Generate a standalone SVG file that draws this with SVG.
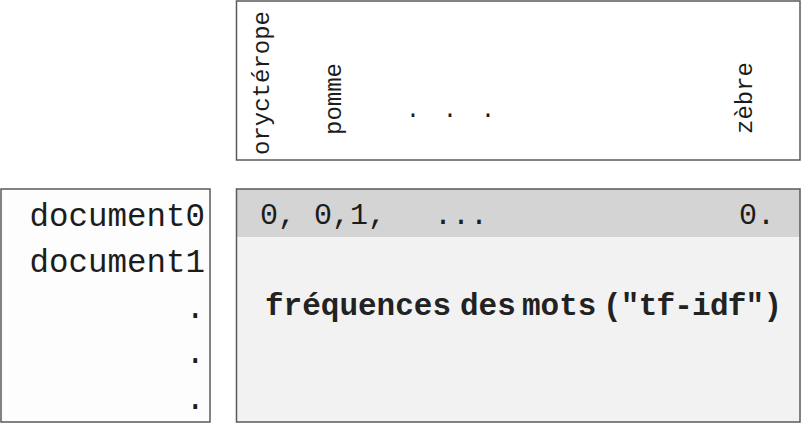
<svg xmlns="http://www.w3.org/2000/svg" width="802" height="424" viewBox="0 0 802 424">
  <style>
    .box { stroke: #5a5a5a; stroke-width: 1.5; }
    .mono { font-family: "Liberation Mono", "DejaVu Sans Mono", monospace; fill: #1c1c1c; }
    .lbl { font-size: 24px; }
    .doc { font-size: 32.5px; }
    .row { font-size: 30px; }
    .bold { font-size: 31px; font-weight: bold; fill: #222; }
  </style>
  <rect width="802" height="424" fill="#ffffff"/>

  <g id="vocabulary">
    <rect class="box" x="236.5" y="1" width="563.5" height="159" fill="#ffffff"/>
    <text class="mono lbl" transform="translate(269,155) rotate(-90)">oryctérope</text>
    <text class="mono lbl" transform="translate(341,135) rotate(-90)">pomme</text>
    <text class="mono lbl" text-anchor="middle" x="413" y="117">.</text>
    <text class="mono lbl" text-anchor="middle" x="450" y="117">.</text>
    <text class="mono lbl" text-anchor="middle" x="488" y="117">.</text>
    <text class="mono lbl" transform="translate(752,134) rotate(-90)">zèbre</text>
  </g>

  <g id="documents">
    <rect class="box" x="1" y="189" width="209" height="233" fill="#fdfdfd"/>
    <text class="mono doc" text-anchor="end" x="205" y="226">document0</text>
    <text class="mono doc" text-anchor="end" x="205" y="272">document1</text>
    <text class="mono doc" text-anchor="end" x="205" y="318">.</text>
    <text class="mono doc" text-anchor="end" x="205" y="363">.</text>
    <text class="mono doc" text-anchor="end" x="205" y="409">.</text>
  </g>

  <g id="matrix">
    <rect x="236.5" y="189" width="563.5" height="233" fill="#f2f2f2"/>
    <rect x="236.5" y="189" width="563.5" height="48" fill="#d4d4d4"/>
    <rect class="box" x="236.5" y="189" width="563.5" height="233" fill="none"/>
    <text class="mono row" x="260" y="224">0, 0,1,</text>
    <text class="mono row" x="434" y="224">...</text>
    <text class="mono row" x="739" y="224">0.</text>
    <text class="mono bold" y="315"><tspan x="265">fréquences</tspan><tspan x="460">des</tspan><tspan x="522">mots</tspan></text>
    <text class="mono bold" x="603" y="315" textLength="179" lengthAdjust="spacing">("tf-idf")</text>
  </g>

  <g id="connectors"/>
</svg>
